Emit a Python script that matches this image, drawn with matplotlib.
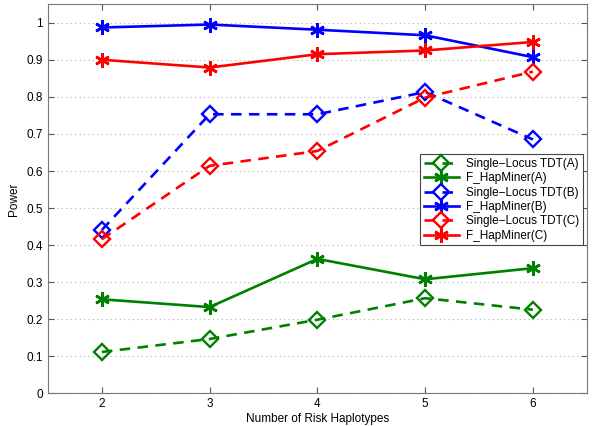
import matplotlib
matplotlib.use("Agg")
import matplotlib.pyplot as plt

plt.rcParams['font.family'] = ['Liberation Sans', 'DejaVu Sans']

n_haplotypes = [2, 3, 4, 5, 6]

# power values
tdt_a = [0.112, 0.147, 0.199, 0.257, 0.226]
hap_a = [0.254, 0.233, 0.363, 0.308, 0.338]
tdt_b = [0.441, 0.753, 0.753, 0.813, 0.685]
hap_b = [0.987, 0.995, 0.981, 0.966, 0.907]
tdt_c = [0.416, 0.614, 0.654, 0.798, 0.868]
hap_c = [0.900, 0.879, 0.915, 0.925, 0.948]

labels = ['Single\u2212Locus TDT(A)', 'F_HapMiner(A)',
          'Single\u2212Locus TDT(B)', 'F_HapMiner(B)',
          'Single\u2212Locus TDT(C)', 'F_HapMiner(C)']

green = (0, 0.5, 0)
blue = (0, 0, 1)
red = (1, 0, 0)

fig = plt.figure(figsize=(6, 4.26), dpi=100)
ax = fig.add_axes([0.08, 0.0763, 0.898, 0.914])

series = [(tdt_a, green, '--', 'D'), (hap_a, green, '-', '*'),
          (tdt_b, blue, '--', 'D'), (hap_b, blue, '-', '*'),
          (tdt_c, red, '--', 'D'), (hap_c, red, '-', '*')]

for (vals, col, ls, mk), lab in zip(series, labels):
    if mk == 'D':
        ax.plot(n_haplotypes, vals, color=col, linestyle=ls, linewidth=1.9,
                marker='D', markersize=8, markerfacecolor='none',
                markeredgewidth=1.7, dashes=(4, 2.8), label=lab)
    else:
        ax.plot(n_haplotypes, vals, color=col, linestyle=ls, linewidth=1.9,
                marker=(6, 2, 0), markersize=10.5, markeredgewidth=1.9,
                label=lab)

ax.set_xlim(1.5, 6.5)
ax.set_ylim(0, 1.05)
ax.set_xticks(n_haplotypes)
ax.set_yticks([i / 10 for i in range(11)])
ax.set_yticklabels(['0', '0.1', '0.2', '0.3', '0.4', '0.5', '0.6', '0.7',
                    '0.8', '0.9', '1'])
ax.yaxis.grid(True, linestyle=(0, (1, 3)), color='#b0b0b0', linewidth=0.8)
ax.tick_params(direction='in', top=True, right=True, labelsize=8.5,
               color='#555555', length=4)
for s in ax.spines.values():
    s.set_color('#777777')
ax.set_xlabel('Number of Risk Haplotypes', fontsize=8.5, labelpad=2)
ax.set_ylabel('Power', fontsize=8.5, labelpad=5)

leg = ax.legend(loc='upper right', bbox_to_anchor=(0.993, 0.614), fontsize=8.5,
                fancybox=False, framealpha=1, edgecolor='#444444',
                handlelength=3.0, labelspacing=0.2, borderpad=0.3,
                handletextpad=0.6, borderaxespad=0)
leg.get_frame().set_linewidth(0.8)

fig.savefig('out.png', dpi=100)
